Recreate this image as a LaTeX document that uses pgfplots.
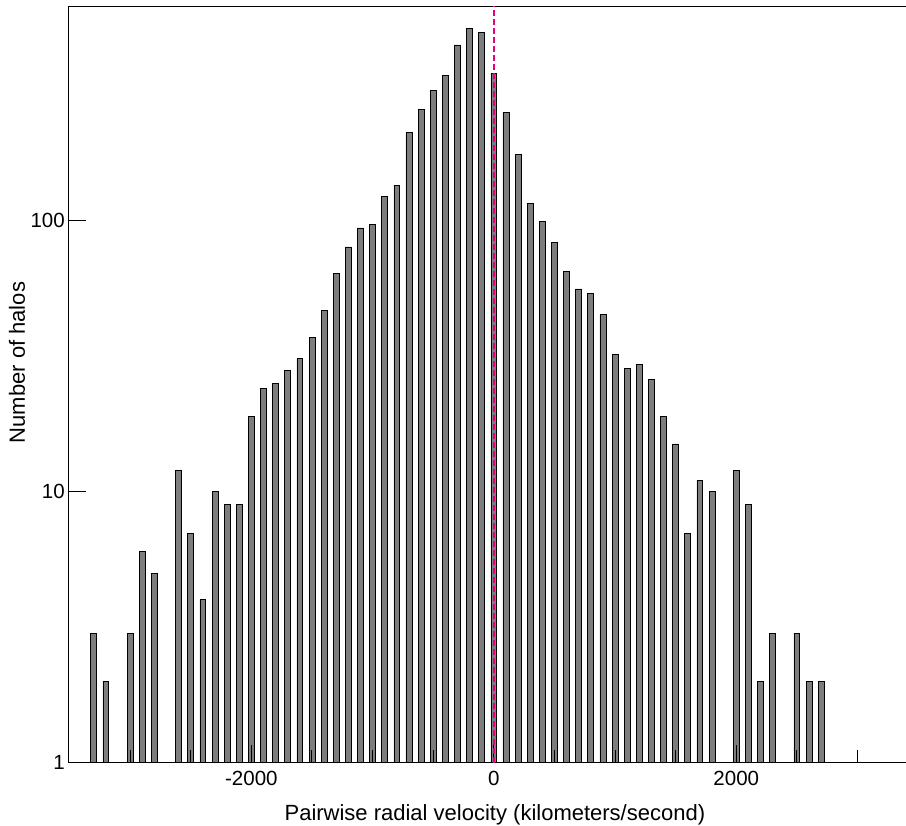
\documentclass[border=0pt]{standalone}
\usepackage{fontspec}
\setmainfont{Liberation Sans}
\usepackage{pgfplots}
\pgfplotsset{compat=1.18}
\definecolor{barfill}{RGB}{125,125,125}
\definecolor{dashpink}{RGB}{228,0,124}
\begin{document}
\begin{tikzpicture}
\useasboundingbox (-68.3pt,-63.3pt) rectangle (837.7pt,762.7pt);
\begin{axis}[
 at={(0,0)}, anchor=south west,
 scale only axis, width=849.8pt, height=756.4pt,
 xmin=-3510, xmax=3500, ymode=log, ymin=1, ymax=618,
 hide axis]
\addplot[ybar, bar width=5.9pt, fill=barfill, draw=black, line width=0.7pt] coordinates {
(-3300,3) (-3200,2) (-3000,3) (-2900,6) (-2800,5) (-2600,12) (-2500,7) (-2400,4)
(-2300,10) (-2200,9) (-2100,9) (-2000,19) (-1900,24) (-1800,25) (-1700,28) (-1600,31)
(-1500,37) (-1400,46.5) (-1300,64) (-1200,80) (-1100,94) (-1000,97) (-900,123) (-800,135)
(-700,212) (-600,258) (-500,303) (-400,343) (-300,445) (-200,513) (-100,496) (0,350)
(100,250) (200,176) (300,116) (400,99) (500,83) (600,65) (700,56) (800,54)
(900,45) (1000,32) (1100,28.5) (1200,29.5) (1300,26) (1400,19) (1500,15) (1600,7)
(1700,11) (1800,10) (2000,12) (2100,9) (2200,2) (2300,3) (2500,3) (2600,2) (2700,2)
};
\end{axis}
\begin{axis}[
 at={(0,0)}, anchor=south west,
 scale only axis, width=849.8pt, height=756.4pt,
 xmin=-3510, xmax=3500, ymode=log, ymin=1, ymax=618,
 axis line style={line width=1pt, black},
 xtick={-2000,0,2000}, xticklabels={-2000,0,2000},
 minor xtick={-3000,-2500,-1500,-1000,-500,500,1000,1500,2500,3000},
 ytick={1,10,100}, yticklabels={1,10,100},
 yminorticks=false,
 xtick pos=bottom, ytick pos=left,
 tick align=inside,
 major tick length=17.5pt, minor tick length=12.5pt,
 tick style={black, line width=1pt},
 tick label style={font=\fontsize{20.5}{24}\selectfont},
 xticklabel style={yshift=-5pt},
 xlabel={Pairwise radial velocity (kilometers/second)},
 ylabel={Number of halos},
 every axis x label/.style={at={(axis description cs:0.502,-0.0758)}, anchor=base, font=\fontsize{22}{26}\selectfont},
 every axis y label/.style={at={(axis description cs:-0.0510,0.529)}, anchor=base, rotate=90, font=\fontsize{22}{26}\selectfont},
]
\addplot[dashpink, line width=2.4pt, dash pattern=on 6pt off 3pt] coordinates {(0,1) (0,618)};
\end{axis}
\end{tikzpicture}
\end{document}
